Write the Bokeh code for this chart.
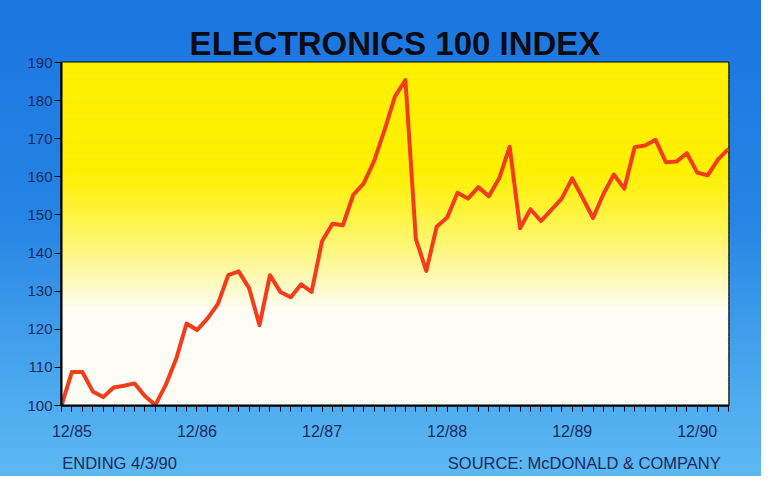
from bokeh.plotting import figure
from bokeh.models import FixedTicker, Range1d, BoxAnnotation, LinearAxis
from bokeh.embed import file_html
from bokeh.resources import INLINE

# ---------------- data ----------------
title_text = "ELECTRONICS 100 INDEX"
# month offsets relative to December 1985 (one point per month)
months = list(range(-1, 64))
index_values = [
    100.0, 108.8, 108.8, 103.7, 102.2, 104.7, 105.2, 105.8, 102.5, 100.1,
    105.4, 112.2, 121.5, 119.8, 122.8, 126.6, 134.2, 135.2, 130.8, 121.1,
    134.2, 129.8, 128.4, 131.8, 129.8, 143.1, 147.7, 147.3, 155.3, 158.3,
    164.2, 172.3, 181.1, 185.4, 143.7, 135.3, 146.9, 149.3, 155.8, 154.3,
    157.3, 154.9, 159.6, 167.9, 146.5, 151.5, 148.4, 151.3, 154.3, 159.6,
    154.5, 149.2, 155.5, 160.6, 156.9, 167.8, 168.2, 169.7, 163.8, 164.0,
    166.2, 161.1, 160.4, 164.6, 167.3,
]
tick_months = [0, 12, 24, 36, 48, 60]
tick_labels = ["12/85", "12/86", "12/87", "12/88", "12/89", "12/90"]
y_ticks = [100, 110, 120, 130, 140, 150, 160, 170, 180, 190]
note_left = "ENDING 4/3/90"
note_right = "SOURCE: McDONALD & COMPANY"

# ---------------- figure ----------------
FONT = "Liberation Sans"
NAVY = "#1b2a5e"
W, H = 761, 476
x0, x1 = months[0], months[-1]
y0, y1 = y_ticks[0], y_ticks[-1]

p = figure(width=W, height=H, output_backend="svg", toolbar_location=None,
           x_range=Range1d(x0, x1), y_range=Range1d(y0, y1),
           min_border_left=61, min_border_right=33,
           min_border_top=62, min_border_bottom=71)
p.styles = {"background": "linear-gradient(to bottom, #1b76e0 0%, #2584e4 45%, #4aa8ee 80%, #5db8f1 100%)"}
p.border_fill_color = None
p.background_fill_color = "#fdfdf8"
p.outline_line_color = "black"
p.outline_line_width = 2
p.grid.visible = False

# title
p.title.text = title_text
p.title.align = "center"
p.title.offset = -9
p.title.standoff = 2
p.title.text_font = FONT
p.title.text_font_style = "bold"
p.title.text_font_size = "33px"
p.title.text_color = "#0b0b14"

# yellow -> white gradient of the plotting area
def mix(c1, c2, t):
    return "#%02x%02x%02x" % tuple(int(round(a + (b - a) * t)) for a, b in zip(c1, c2))

yellow = (255, 240, 0)
white = (253, 253, 246)
step = 0.5
n = int((y1 - y0) / step)
for i in range(n):
    lo = y0 + i * step
    mid = lo + step / 2
    if mid >= 162:
        t = 0.0
    elif mid <= 125:
        t = 1.0
    else:
        t = ((162 - mid) / (162 - 125)) ** 1.2
    p.add_layout(BoxAnnotation(bottom=lo, top=lo + step + 0.15,
                               fill_color=mix(yellow, white, t), fill_alpha=1.0,
                               line_color=None, level="underlay"))

p.line(months, index_values, line_color="#f23c1c", line_width=4, line_join="round")

# ---------------- axes ----------------
xa = p.xaxis[0]
xa.ticker = FixedTicker(ticks=tick_months, minor_ticks=months)
xa.major_label_overrides = {m: l for m, l in zip(tick_months, tick_labels)}
xa.axis_line_color = "black"
xa.axis_line_width = 2
xa.major_tick_in = 0
xa.major_tick_out = 6
xa.minor_tick_in = 0
xa.minor_tick_out = 6
xa.major_tick_line_color = "black"
xa.minor_tick_line_color = "black"
xa.major_tick_line_width = 1
xa.minor_tick_line_width = 1
xa.major_label_standoff = 11
xa.major_label_text_font = FONT
xa.major_label_text_font_size = "16px"
xa.major_label_text_color = NAVY

ya = p.yaxis[0]
ya.ticker = FixedTicker(ticks=y_ticks, minor_ticks=[])
ya.axis_line_color = "black"
ya.axis_line_width = 2
ya.major_tick_in = 0
ya.major_tick_out = 7
ya.major_tick_line_color = "black"
ya.major_tick_line_width = 1
ya.major_label_standoff = 2
ya.major_label_text_font = FONT
ya.major_label_text_font_size = "15px"
ya.major_label_text_color = NAVY

# footnotes, set as a second (invisible) axis under the dates
note_pos = [4.57, 49.16]
notes = LinearAxis(ticker=FixedTicker(ticks=note_pos, minor_ticks=[]),
                   major_label_overrides={note_pos[0]: note_left, note_pos[1]: note_right})
notes.axis_line_color = None
notes.major_tick_line_color = None
notes.minor_tick_line_color = None
notes.major_tick_out = 0
notes.major_tick_in = 0
notes.major_label_standoff = 11
notes.major_label_text_font = FONT
notes.major_label_text_font_size = "16.5px"
notes.major_label_text_color = NAVY
p.add_layout(notes, "below")

open("out.html", "w").write(file_html(p, INLINE))
